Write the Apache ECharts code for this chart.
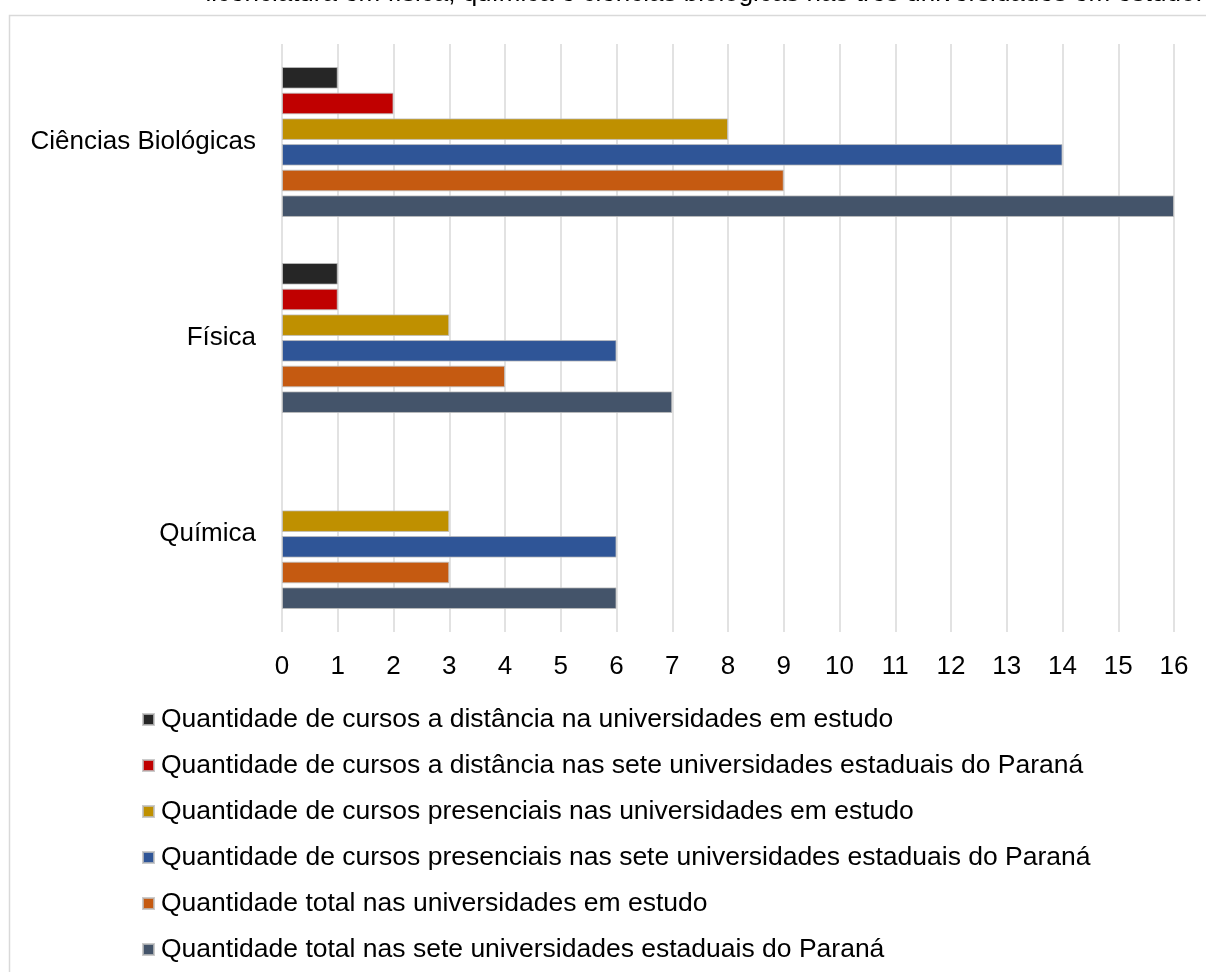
<!DOCTYPE html>
<html>
<head>
<meta charset="utf-8">
<title>Cursos de licenciatura</title>
<script src="https://cdn.jsdelivr.net/npm/echarts@6/dist/echarts.min.js"></script>
<style>
  html, body { margin: 0; padding: 0; background: #fff; }
  #chart { width: 1206px; height: 972px; }
</style>
</head>
<body>
<div id="chart"></div>
<script>
const categories = ['Ciências Biológicas', 'Física', 'Química']
const tickValues = [0, 16]
const seriesNames = [
  'Quantidade de cursos a distância na universidades em estudo',
  'Quantidade de cursos a distância nas sete universidades estaduais do Paraná',
  'Quantidade de cursos presenciais nas universidades em estudo',
  'Quantidade de cursos presenciais nas sete universidades estaduais do Paraná',
  'Quantidade total nas universidades em estudo',
  'Quantidade total nas sete universidades estaduais do Paraná'
]
const distEstudo = [1, 1, null]
const distParana = [2, 1, null]
const presEstudo = [8, 3, 3]
const presParana = [14, 6, 6]
const totalEstudo = [9, 4, 3]
const totalParana = [16, 7, 6]
const colorList = ['#262626', '#c00000', '#bf9000', '#2f5597', '#c55a11', '#44546a']

const font = 'Liberation Sans, Arial, sans-serif'
const allData = [distEstudo, distParana, presEstudo, presParana, totalEstudo, totalParana]

const chart = echarts.init(document.getElementById('chart'))
chart.setOption({
  backgroundColor: '#fff',
  animation: false,
  color: colorList,
  textStyle: { fontFamily: font },
  graphic: [
    {
      type: 'rect',
      shape: { x: 9.5, y: 15.5, width: 1400, height: 1200 },
      style: { fill: 'none', stroke: '#d9d9d9', lineWidth: 1.5 },
      silent: true
    },
    {
      type: 'text',
      x: 704,
      y: -6,
      style: {
        text: 'licenciatura em física, química e ciências biológicas nas três universidades em estudo.',
        fontFamily: font,
        fontSize: 26,
        fill: '#000',
        align: 'center',
        verticalAlign: 'middle'
      },
      silent: true
    }
  ],
  grid: {
    left: 282,
    right: 32,
    top: 44,
    height: 588
  },
  legend: {
    orient: 'vertical',
    left: 142,
    top: 706,
    padding: 0,
    itemWidth: 11,
    itemHeight: 11,
    itemGap: 19,
    icon: 'rect',
    textStyle: { color: '#000', fontSize: 26.5, lineHeight: 26, height: 26, fontFamily: font, padding: [0, 0, 0, 2] },
    data: seriesNames
  },
  xAxis: {
    type: 'value',
    min: tickValues[0],
    max: tickValues[1],
    interval: 1,
    axisLine: { show: false },
    axisTick: { show: false },
    axisLabel: { color: '#000', fontSize: 26, margin: 22, fontFamily: font },
    splitLine: { show: true, lineStyle: { color: '#d9d9d9', width: 1.5 } }
  },
  yAxis: {
    type: 'category',
    inverse: true,
    data: categories,
    axisLine: { show: false },
    axisTick: { show: false },
    axisLabel: { color: '#000', fontSize: 26, margin: 26, fontFamily: font }
  },
  series: seriesNames.map((name, i) => ({
    name,
    type: 'bar',
    data: allData[i],
    barCategoryGap: '23.5%',
    barGap: '19%',
    itemStyle: { borderColor: 'rgba(190,190,190,0.8)', borderWidth: 1 }
  }))
})
</script>
</body>
</html>
